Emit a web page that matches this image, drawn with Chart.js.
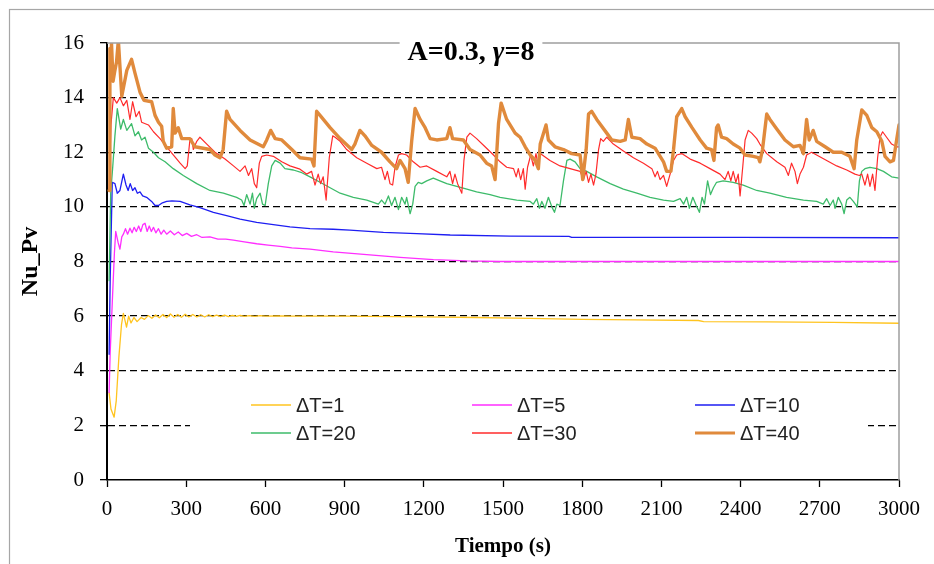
<!DOCTYPE html>
<html>
<head>
<meta charset="utf-8">
<script src="https://cdn.jsdelivr.net/npm/chart.js@4.4.0/dist/chart.umd.min.js"></script>
<style>
html,body{margin:0;padding:0;background:#fff;}
#wrap{width:934px;height:564px;position:relative;}
</style>
</head>
<body>
<div id="wrap"><canvas id="c" width="934" height="564"></canvas></div>
<script>
// ---------- data ----------
const TITLE_PARTS = ['A=0.3, ', 'γ', '=8'];
const X_TITLE = 'Tiempo (s)';
const Y_TITLE = 'Nu_Pv';
const X_TICKS = [0, 300, 600, 900, 1200, 1500, 1800, 2100, 2400, 2700, 3000];
const Y_TICKS = [0, 2, 4, 6, 8, 10, 12, 14, 16];
const SERIES_LABELS = ['ΔT=1', 'ΔT=5', 'ΔT=10', 'ΔT=20', 'ΔT=30', 'ΔT=40'];

const t1 = [8,15,27,35,45,55,62,74,82,91,102,114,129,142,156,170,184,198,212,226,240,254,268,282,296,310,325,340,355,370,385,400,415,430,445,460,475,490,505,520,540,560,580,600,650,700,800,900,1000,1100,1200,1400,1600,1800,2000,2240,2260,2500,2750,3000];
const nu1 = [3.2,2.6,2.3,2.9,4.5,5.7,6.1,5.6,6.0,5.75,5.95,5.8,5.95,5.88,6.02,5.92,6.04,5.94,6.06,5.95,6.08,5.96,6.06,5.96,6.07,5.97,6.06,5.97,6.05,5.97,6.05,5.98,6.04,5.98,6.04,5.98,6.03,5.99,6.03,5.99,6.02,5.99,6.02,6.0,6.01,6.0,6.0,6.0,5.99,5.98,5.97,5.95,5.92,5.88,5.86,5.84,5.8,5.79,5.77,5.74];

const t5 = [8,12,20,28,33,42,49,56,62,70,78,87,95,103,111,120,128,136,144,152,160,168,176,185,195,205,215,226,240,255,270,285,302,320,340,360,390,420,450,479,520,567,610,656,700,769,857,984,1110,1236,1363,1489,2000,2500,3000];
const nu5 = [3.2,4.65,6.5,8.3,9.1,8.7,8.45,8.9,9.0,9.2,9.0,9.22,9.05,9.25,9.1,9.3,9.1,9.35,9.4,9.1,9.3,9.1,9.25,9.05,9.2,9.0,9.15,9.0,9.12,8.98,9.08,8.95,9.03,8.92,8.98,8.88,8.9,8.82,8.82,8.78,8.72,8.65,8.6,8.55,8.5,8.45,8.35,8.25,8.15,8.07,8.02,8.0,8.0,8.0,8.0];

const t10 = [8,12,20,30,39,49,62,72,80,88,97,106,115,125,135,150,169,182,195,210,226,246,277,314,352,403,453,504,567,630,693,769,857,920,1047,1173,1300,1527,1750,1760,2400,3000];
const nu10 = [4.6,7.3,10.9,10.85,10.5,10.6,11.2,10.8,10.6,10.85,10.6,10.7,10.5,10.55,10.4,10.35,10.2,10.05,10.05,10.15,10.2,10.22,10.2,10.07,9.97,9.8,9.68,9.55,9.43,9.35,9.27,9.2,9.18,9.15,9.07,9.02,8.97,8.93,8.92,8.88,8.88,8.87];

const t20 = [8,14,22,30,39,52,62,75,93,106,119,131,144,157,176,195,220,251,289,340,390,441,491,510,519,529,542,551,558,567,580,589,599,611,624,637,656,674,706,738,769,807,845,883,933,984,1028,1040,1053,1066,1078,1091,1104,1116,1129,1135,1148,1158,1167,1179,1192,1211,1236,1261,1287,1325,1363,1400,1451,1489,1552,1603,1615,1628,1638,1647,1659,1672,1685,1695,1704,1716,1729,1742,1754,1773,1792,1817,1855,1906,1956,2007,2057,2108,2146,2171,2184,2196,2206,2219,2232,2244,2254,2263,2275,2286,2297,2309,2334,2372,2410,2461,2511,2574,2638,2688,2713,2726,2739,2751,2758,2770,2783,2792,2802,2814,2827,2842,2850,2859,2871,2890,2916,2941,2972,3000];
const nu20 = [7.3,10.5,11.5,12.6,13.6,12.85,13.2,12.8,13.05,12.6,12.75,12.45,12.55,12.15,12.0,11.8,11.65,11.4,11.15,10.85,10.6,10.5,10.35,10.25,10.05,10.45,10.1,10.5,9.95,10.3,10.5,10.1,10.05,10.85,11.5,11.7,11.6,11.4,11.35,11.25,11.1,10.9,10.7,10.5,10.35,10.25,10.1,10.25,10.1,10.4,10.05,10.35,9.9,10.35,10.1,10.35,9.75,10.1,10.75,10.9,10.85,10.95,11.05,10.95,10.85,10.75,10.65,10.55,10.45,10.35,10.25,10.2,10.1,10.3,9.95,10.2,9.95,10.35,10.0,9.8,10.1,10.05,10.95,11.7,11.75,11.65,11.4,11.3,11.1,10.85,10.65,10.5,10.35,10.25,10.2,10.3,10.1,10.35,9.95,10.35,10.05,9.8,10.35,10.1,10.95,10.45,10.7,10.9,10.95,10.9,10.8,10.6,10.5,10.35,10.25,10.2,10.1,10.3,10.05,10.25,9.95,10.35,10.1,9.75,10.25,10.35,10.2,10.0,10.95,11.3,11.4,11.45,11.4,11.3,11.1,11.05];

const t30 = [8,15,24,37,49,62,75,87,97,110,122,131,157,176,201,226,251,277,296,304,314,321,327,340,352,378,409,447,479,504,523,536,548,558,567,577,586,605,630,662,693,731,756,775,788,800,809,819,830,842,855,864,883,908,946,984,1022,1040,1053,1062,1072,1082,1091,1104,1116,1135,1160,1186,1211,1249,1287,1299,1309,1318,1328,1337,1344,1352,1363,1375,1400,1432,1464,1489,1514,1540,1550,1558,1567,1577,1584,1593,1605,1615,1625,1634,1641,1678,1716,1754,1792,1805,1815,1824,1833,1843,1852,1862,1870,1880,1893,1918,1956,1994,2032,2064,2076,2085,2095,2108,2120,2133,2146,2158,2177,2209,2247,2284,2322,2341,2353,2363,2372,2382,2391,2398,2408,2417,2429,2442,2461,2473,2499,2537,2568,2581,2593,2606,2615,2625,2638,2650,2669,2688,2726,2764,2802,2833,2850,2859,2871,2881,2890,2900,2909,2919,2928,2938,2953,2972,2991,3000];
const nu30 = [10.6,13.0,14.0,13.8,14.0,13.7,13.9,13.2,13.85,13.3,13.5,13.1,13.0,12.75,12.5,12.2,11.9,11.6,11.4,11.5,12.45,12.5,12.1,12.4,12.55,12.3,12.0,11.75,11.5,11.3,11.5,11.15,11.4,10.85,10.7,11.6,11.85,11.9,11.85,11.65,11.5,11.38,11.2,11.3,10.8,11.2,10.85,11.1,10.25,11.8,12.6,12.55,12.4,12.1,11.8,11.6,11.4,11.45,11.0,11.3,10.85,10.8,11.45,11.9,11.95,11.9,11.65,11.45,11.5,11.3,11.1,11.3,10.85,11.2,10.85,10.65,10.5,11.7,12.55,12.7,12.5,12.2,11.9,11.65,11.45,11.4,11.1,11.4,11.0,11.4,10.65,11.45,11.9,11.5,11.95,11.45,11.95,11.7,11.5,11.4,11.3,11.0,11.3,10.9,11.2,10.8,11.2,12.1,12.5,12.4,12.55,12.3,12.05,11.8,11.6,11.4,11.1,11.3,11.0,11.15,10.75,11.2,11.7,11.9,11.95,11.75,11.6,11.4,11.2,11.0,11.3,10.95,11.3,10.9,11.2,10.4,11.45,12.45,12.8,12.7,12.5,12.3,11.95,11.65,11.45,11.15,11.6,11.3,10.85,11.2,11.45,11.9,12.0,11.9,11.7,11.5,11.35,11.2,11.15,11.2,10.8,11.2,10.75,11.2,10.6,11.8,12.55,12.75,12.55,12.3,12.2,12.2];

const t40 = [8,11,13,17,23,30,36,43,56,75,93,106,125,140,169,182,195,207,213,226,245,251,258,270,283,314,333,390,409,428,440,453,466,504,542,592,605,620,637,662,700,731,775,784,794,807,845,883,927,939,958,977,1003,1040,1072,1097,1110,1129,1141,1154,1167,1186,1205,1224,1249,1287,1299,1309,1350,1375,1413,1438,1457,1470,1483,1493,1514,1546,1565,1584,1603,1622,1634,1641,1663,1672,1697,1729,1760,1792,1802,1815,1824,1836,1855,1893,1912,1944,1963,1975,1988,2019,2045,2076,2108,2120,2136,2146,2158,2177,2190,2216,2247,2271,2290,2299,2309,2315,2328,2347,2372,2398,2417,2448,2467,2473,2483,2499,2511,2537,2568,2600,2625,2638,2650,2660,2675,2688,2720,2751,2783,2814,2830,2840,2859,2878,2897,2916,2935,2947,2966,2979,2991,3000];
const nu40 = [10.6,15.8,15.2,16.0,14.6,15.0,15.3,16.1,14.05,15.0,15.4,14.9,14.2,13.9,13.85,13.35,13.1,12.95,12.4,12.15,12.2,13.6,12.7,12.9,12.5,12.5,12.2,12.1,11.9,11.8,12.1,13.5,13.2,12.8,12.45,12.2,12.45,12.8,12.5,12.45,12.1,11.8,11.75,11.5,13.5,13.35,12.9,12.5,12.1,12.3,12.8,12.6,12.25,12.0,11.65,11.4,11.7,11.4,10.9,12.4,13.6,13.2,12.9,12.5,12.45,12.5,12.9,12.5,12.45,12.1,11.9,11.6,11.5,11.0,13.05,13.8,13.2,12.7,12.55,12.2,11.9,11.7,11.4,12.3,13.0,12.45,12.2,12.1,11.95,11.9,11.0,12.1,13.4,13.5,13.2,12.7,12.45,12.4,12.45,13.2,12.55,12.5,12.3,12.15,11.65,11.3,11.3,12.1,13.3,13.6,13.3,12.9,12.45,12.15,12.1,11.7,12.9,13.0,12.55,12.5,12.3,12.15,11.9,11.85,11.8,11.65,12.1,13.4,13.2,12.85,12.45,12.2,12.25,11.95,13.2,12.45,12.8,12.4,12.2,12.0,12.0,11.85,11.4,12.45,13.55,13.35,12.9,12.75,12.4,11.85,11.65,11.7,12.45,13.0];

// ---------- styling / layout constants ----------
const SERIF = '"Liberation Serif", "Times New Roman", Times, serif';
const SANS = '"Liberation Sans", Arial, Helvetica, sans-serif';
const COLORS = ['#FFC41F', '#FF2EFF', '#1E1EF2', '#3DBB6A', '#FF2B2B', '#E08A3C'];
const WIDTHS = [1.3, 1.3, 1.3, 1.3, 1.2, 3.4];
const DRAW_ORDER = [6, 5, 4, 3, 2, 1];
const LEG_COL_X = [251, 472, 695];
const LEG_ROW_Y = [405, 433];

function pts(ts, vs) {
  if (ts.length !== vs.length) console.error('length mismatch', ts.length, vs.length);
  return ts.map((t, i) => ({x: t, y: vs[i]}));
}
const SERIES = [[t1, nu1], [t5, nu5], [t10, nu10], [t20, nu20], [t30, nu30], [t40, nu40]];

const datasets = SERIES.map((s, i) => ({
  label: SERIES_LABELS[i],
  data: pts(s[0], s[1]),
  borderColor: COLORS[i],
  backgroundColor: COLORS[i],
  borderWidth: WIDTHS[i],
  pointRadius: 0,
  tension: 0,
  fill: false,
  order: DRAW_ORDER[i],
  borderJoinStyle: 'round',
  borderCapStyle: 'round'
}));

const decor = {
  id: 'decor',
  beforeDraw(chart) {
    const ctx = chart.ctx;
    ctx.save();
    ctx.fillStyle = '#fff';
    ctx.fillRect(0, 0, chart.width, chart.height);
    ctx.strokeStyle = '#a6a6a6';
    ctx.lineWidth = 1.2;
    ctx.strokeRect(9.5, 9.5, 1200, 1200);
    ctx.restore();
  },
  beforeDatasetsDraw(chart) {
    const ctx = chart.ctx;
    ctx.save();
    ctx.fillStyle = '#fff';
    ctx.fillRect(190, 386, 678, 62);
    ctx.restore();
  },
  afterDatasetsDraw(chart) {
    const ctx = chart.ctx;
    const a = chart.chartArea;
    ctx.save();
    ctx.strokeStyle = '#9e9e9e';
    ctx.lineWidth = 1.5;
    ctx.beginPath();
    ctx.moveTo(a.left, a.top);
    ctx.lineTo(a.right, a.top);
    ctx.lineTo(a.right, a.bottom);
    ctx.stroke();
    // title (γ in italic, as in the original)
    const fonts = ['bold 28px ' + SERIF, 'italic bold 28px ' + SERIF, 'bold 28px ' + SERIF];
    const widths = TITLE_PARTS.map((p, i) => { ctx.font = fonts[i]; return ctx.measureText(p).width; });
    const total = widths.reduce((s, v) => s + v, 0);
    const cx = 471;
    ctx.fillStyle = '#fff';
    ctx.fillRect(cx - total / 2 - 8, 34, total + 16, 20);
    ctx.fillStyle = '#000';
    ctx.textAlign = 'left';
    ctx.textBaseline = 'alphabetic';
    let x = cx - total / 2;
    TITLE_PARTS.forEach((p, i) => { ctx.font = fonts[i]; ctx.fillText(p, x, 60); x += widths[i]; });
    ctx.restore();
  },
  afterDraw(chart) {
    const ctx = chart.ctx;
    ctx.save();
    ctx.font = '20px ' + SANS;
    ctx.textAlign = 'left';
    ctx.textBaseline = 'middle';
    chart.data.datasets.forEach((ds, i) => {
      const x = LEG_COL_X[i % 3];
      const y = LEG_ROW_Y[Math.floor(i / 3)];
      ctx.strokeStyle = ds.borderColor;
      ctx.lineWidth = ds.borderWidth > 2 ? 3 : 1.6;
      ctx.beginPath();
      ctx.moveTo(x, y);
      ctx.lineTo(x + 40, y);
      ctx.stroke();
      ctx.fillStyle = '#222';
      ctx.fillText(ds.label, x + 45, y + 1);
    });
    ctx.restore();
  }
};

new Chart(document.getElementById('c'), {
  type: 'line',
  data: {datasets},
  plugins: [decor],
  options: {
    responsive: false,
    animation: false,
    devicePixelRatio: 1,
    layout: {padding: {left: 0, right: 35, top: 43, bottom: 0}},
    plugins: {legend: {display: false}, title: {display: false}, tooltip: {enabled: false}},
    scales: {
      x: {
        type: 'linear', min: 0, max: 3000,
        afterBuildTicks: s => { s.ticks = X_TICKS.map(v => ({value: v})); },
        afterFit: s => { s.height = 84; },
        grid: {drawOnChartArea: false, drawTicks: true, tickLength: 7, tickColor: '#000', tickWidth: 1.3},
        border: {display: true, color: '#000', width: 1.5},
        ticks: {font: {family: SERIF, size: 21}, color: '#000', padding: 10, maxRotation: 0, autoSkip: false, callback: v => String(v)},
        title: {display: true, text: X_TITLE, color: '#000', font: {family: SERIF, size: 21, weight: 'bold'}, padding: {top: 0, bottom: 5}}
      },
      y: {
        min: 0, max: 16,
        afterBuildTicks: s => { s.ticks = Y_TICKS.map(v => ({value: v})); },
        afterFit: s => { s.width = 107; },
        grid: {
          color: c => (c.tick && (c.tick.value === 0 || c.tick.value === 16)) ? 'rgba(0,0,0,0)' : '#000',
          lineWidth: 1.3, drawTicks: true, tickLength: 7, tickColor: '#000', tickWidth: 1.3
        },
        border: {display: true, color: '#000', width: 2, dash: [7, 4]},
        ticks: {font: {family: SERIF, size: 21}, color: '#000', padding: 16, autoSkip: false, callback: v => String(v)},
        title: {display: true, text: Y_TITLE, color: '#000', font: {family: SERIF, size: 24, weight: 'bold'}, padding: {top: 16, bottom: 0}}
      }
    }
  }
});
</script>
</body>
</html>
